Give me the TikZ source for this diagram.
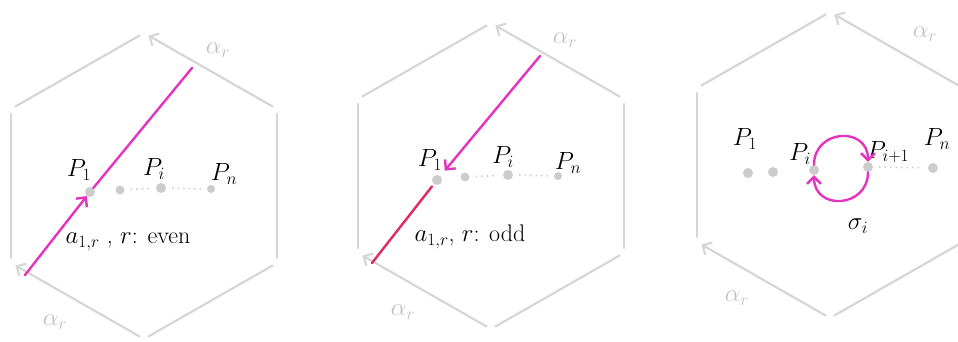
\documentclass[tikz,border=0pt]{standalone}
\usepackage{xcolor}
\usepackage{tikz}
\usepackage{amsmath}
\usetikzlibrary{arrows.meta,positioning}

\definecolor{hexgray}{RGB}{214,214,214}
\definecolor{dotgray}{RGB}{204,204,204}
\definecolor{labgray}{RGB}{192,192,192}
\definecolor{braidpink}{RGB}{228,52,190}
\definecolor{braidred}{RGB}{226,42,98}

% hexagon around the punctures, centre #1
\newcommand{\hexframe}[1]{%
  \begin{scope}[shift={#1}]
    \coordinate (t)  at (0,-153);
    \coordinate (ur) at (133,-77);
    \coordinate (lr) at (133,77);
    \coordinate (b)  at (0,153);
    \coordinate (ll) at (-133,77);
    \coordinate (ul) at (-133,-77);
    \draw[side] (ul) -- (t);
    \draw[side,->] (ur) -- (t);
    \draw[side] (ur) -- (lr);
    \draw[side] (lr) -- (b);
    \draw[side,->] (b) -- (ll);
    \draw[side] (ll) -- (ul);
  \end{scope}}

\begin{document}
\begin{tikzpicture}[
    x=1pt, y=-1pt,
    >={Straight Barb[length=7pt,width=14pt]},
    every node/.style={font=\fontsize{24}{28}\selectfont},
    side/.style={draw=hexgray, line width=2.2pt, line cap=round, shorten <=5pt, shorten >=5pt},
    dot/.style={circle, fill=dotgray, minimum size=10pt, inner sep=0pt},
    gap/.style={draw=dotgray, line width=1.6pt, dash pattern=on 1.5pt off 4pt, shorten <=6pt, shorten >=6pt},
    alab/.style={text=labgray},
    strand/.style={draw=braidpink, line width=2.4pt, line cap=round}
]
\clip (0,0) rectangle (958,342);

% --- even r
\hexframe{(144,186)}
\node[dot] (a1) at (90,192) {};
\node[dot, minimum size=9pt] (a2) at (120,190) {};
\node[dot] (ai) at (161,188) {};
\node[dot, minimum size=8pt] (an) at (211,189) {};
\draw[gap] (a2) -- (ai);
\draw[gap] (ai) -- (an);
\node (la1) at (79,170) {$P_1$};
\node (lai) at (154,169) {$P_i$};
\node (lan) at (224,174) {$P_n$};
\coordinate (s1) at (25,275);
\coordinate (e1) at (192,68);
\draw[strand,->] (s1) -- (a1);
\draw[strand] (a1) -- (e1);
\node (ta) at (128,242) {$a_{1,r}$ , $r$: even};
\node[alab] (aa1) at (218,50) {$\alpha_r$};
\node[alab] (aa2) at (55,322) {$\alpha_r$};

% --- odd r
\hexframe{(491,176)}
\node[dot] (b1) at (437,180) {};
\node[dot, minimum size=9pt] (b2) at (465,177) {};
\node[dot] (bi) at (508,175) {};
\node[dot, minimum size=8pt] (bn) at (558,176) {};
\draw[gap] (b2) -- (bi);
\draw[gap] (bi) -- (bn);
\node (lb1) at (430,160) {$P_1$};
\node (lbi) at (503,157) {$P_i$};
\node (lbn) at (568,163) {$P_n$};
\coordinate (e2) at (540,56);
\coordinate (s2) at (372,263);
\draw[strand,->,shorten >=7pt] (e2) -- (b1);
\draw[strand,draw=braidred,shorten <=3pt] (b1) -- (s2);
\node (tb) at (470,237) {$a_{1,r}$, $r$: odd};
\node[alab] (ab1) at (565,40) {$\alpha_r$};
\node[alab] (ab2) at (403,312) {$\alpha_r$};

% --- sigma_i
\hexframe{(830,165)}
\node[dot] (c1) at (748,173) {};
\node[dot] (c2) at (773,172) {};
\node[dot] (ci) at (814,170) {};
\node[dot] (cj) at (868,167) {};
\node[dot] (cn) at (933,168) {};
\draw[gap] (cj) -- (cn);
\node (lc1) at (745,139) {$P_1$};
\node (lci) at (800,154) {$P_i$};
\node (lcj) at (888,152) {$P_{i+1}$};
\node (lcn) at (937,139) {$P_n$};
\draw[strand,->] (ci.north) to[out=90,in=90,looseness=1.7] (cj.north);
\draw[strand,->] (cj.south) to[out=-90,in=-90,looseness=1.7] (ci.south);
\node (ls) at (858,226) {$\sigma_i$};
\node[alab] (ac1) at (925,34) {$\alpha_r$};
\node[alab] (ac2) at (737,298) {$\alpha_r$};

\end{tikzpicture}
\end{document}
